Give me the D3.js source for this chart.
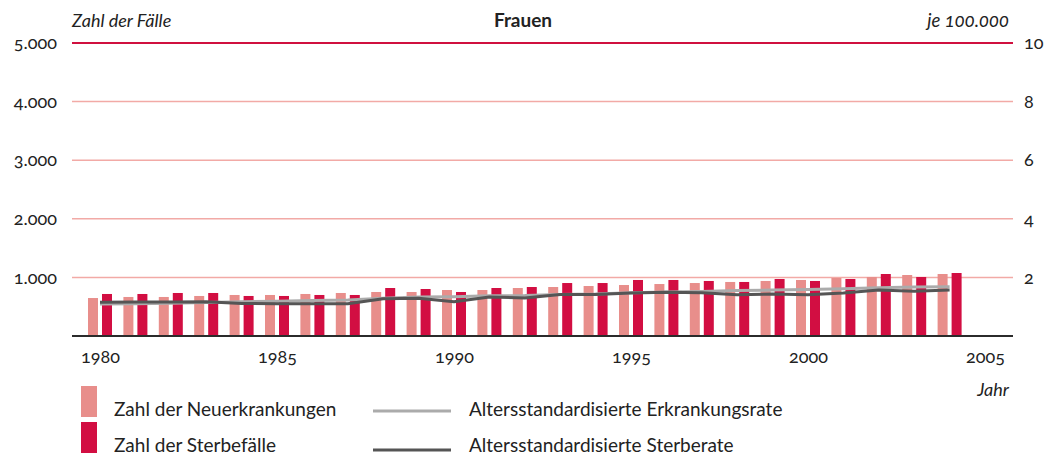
<!DOCTYPE html>
<html>
<head>
<meta charset="utf-8">
<script src="https://cdn.jsdelivr.net/npm/d3@7"></script>
<style>
  body { margin: 0; background: #fff; }
  svg text { font-family: Lato, "Open Sans", sans-serif; fill: #222; font-variant-numeric: oldstyle-nums; }
</style>
</head>
<body>
<div id="canvas"></div>
<script>
  // data
  var years = [1980, 1981, 1982, 1983, 1984, 1985, 1986, 1987, 1988, 1989, 1990, 1991,
    1992, 1993, 1994, 1995, 1996, 1997, 1998, 1999, 2000, 2001, 2002, 2003, 2004];
  // Zahl der Neuerkrankungen
  var newCases = [648, 666, 666, 683, 700, 700, 717, 734, 751, 751, 785, 785,
    819, 836, 853, 870, 887, 904, 922, 939, 956, 990, 1007, 1041, 1058];
  // Zahl der Sterbefälle
  var deaths = [717, 717, 734, 734, 683, 683, 700, 700, 819, 802, 751, 819,
    836, 904, 904, 956, 956, 939, 922, 973, 939, 973, 1058, 1007, 1075];
  // Altersstandardisierte Erkrankungsrate (je 100.000)
  var incRate = [1.09, 1.10, 1.12, 1.14, 1.17, 1.19, 1.21, 1.23, 1.29, 1.33, 1.34, 1.37,
    1.38, 1.42, 1.43, 1.48, 1.50, 1.52, 1.55, 1.57, 1.59, 1.61, 1.65, 1.67, 1.68];
  // Altersstandardisierte Sterberate (je 100.000)
  var mortRate = [1.15, 1.16, 1.16, 1.17, 1.11, 1.10, 1.10, 1.10, 1.27, 1.29, 1.17, 1.33,
    1.30, 1.42, 1.42, 1.47, 1.49, 1.48, 1.41, 1.43, 1.41, 1.47, 1.57, 1.53, 1.57];

  var yearTicks = [1980, 1985, 1990, 1995, 2000, 2005];
  var countTicks = [1000, 2000, 3000, 4000, 5000];
  var rateTicks = [2, 4, 6, 8, 10];

  var legendBars = ['Zahl der Neuerkrankungen', 'Zahl der Sterbefälle'];
  var legendLines = ['Altersstandardisierte Erkrankungsrate', 'Altersstandardisierte Sterberate'];

  (function (d3) {
    var lightRed = '#e88e8b', darkRed = '#d20e42';
    var lightGrey = '#ababab', darkGrey = '#555555';

    var de = d3.formatLocale({ decimal: ',', thousands: '.', grouping: [3], currency: ['', '€'] });
    var fmt = de.format(',');

    var W = 1045, H = 456;
    var plotLeft = 72, plotRight = 1013, plotTop = 43, plotBottom = 336;

    var svg = d3.select('#canvas').append('svg')
      .attr('width', W)
      .attr('height', H);

    var x = d3.scaleLinear().domain([1980, 2005]).range([100, 985]);
    var y = d3.scaleLinear().domain([0, 5000]).range([plotBottom, plotTop]);
    var yr = d3.scaleLinear().domain([0, 10]).range([plotBottom, plotTop]);

    // grid lines
    svg.append('g')
      .selectAll('line')
      .data(countTicks)
      .enter()
      .append('line')
      .attr('x1', plotLeft)
      .attr('x2', plotRight)
      .attr('y1', function (d) { return y(d); })
      .attr('y2', function (d) { return y(d); })
      .attr('stroke', function (d) { return d === 5000 ? '#d0103f' : '#f2aaa6'; })
      .attr('stroke-width', function (d) { return d === 5000 ? 2 : 1.5; });

    // bars
    var bars = svg.append('g');
    bars.selectAll('rect.new')
      .data(years)
      .enter()
      .append('rect')
      .attr('class', 'new')
      .attr('x', function (d) { return x(d) - 12; })
      .attr('width', 10)
      .attr('y', function (d, i) { return y(newCases[i]); })
      .attr('height', function (d, i) { return y(0) - y(newCases[i]); })
      .attr('fill', lightRed);
    bars.selectAll('rect.death')
      .data(years)
      .enter()
      .append('rect')
      .attr('class', 'death')
      .attr('x', function (d) { return x(d) + 2; })
      .attr('width', 10)
      .attr('y', function (d, i) { return y(deaths[i]); })
      .attr('height', function (d, i) { return y(0) - y(deaths[i]); })
      .attr('fill', darkRed);

    // rate lines
    var line = d3.line()
      .x(function (d) { return x(d[0]); })
      .y(function (d) { return yr(d[1]); });

    svg.append('path')
      .datum(d3.zip(years, incRate))
      .attr('d', line)
      .attr('fill', 'none')
      .attr('stroke', lightGrey)
      .attr('stroke-width', 3)
      .attr('stroke-linejoin', 'round');
    svg.append('path')
      .datum(d3.zip(years, mortRate))
      .attr('d', line)
      .attr('fill', 'none')
      .attr('stroke', darkGrey)
      .attr('stroke-width', 3)
      .attr('stroke-linejoin', 'round');

    // baseline
    svg.append('line')
      .attr('x1', plotLeft)
      .attr('x2', plotRight)
      .attr('y1', y(0))
      .attr('y2', y(0))
      .attr('stroke', '#2b2b2b')
      .attr('stroke-width', 2);

    // axes (labels only)
    var leftAxis = svg.append('g')
      .attr('transform', 'translate(' + plotLeft + ',0)')
      .call(d3.axisLeft(y).tickValues(countTicks).tickFormat(fmt).tickSize(0).tickPadding(15));
    var rightAxis = svg.append('g')
      .attr('transform', 'translate(' + plotRight + ',0)')
      .call(d3.axisRight(yr).tickValues(rateTicks).tickFormat(d3.format('d')).tickSize(0).tickPadding(11));
    var bottomAxis = svg.append('g')
      .attr('transform', 'translate(0,' + (plotBottom + 14) + ')')
      .call(d3.axisBottom(x).tickValues(yearTicks).tickFormat(d3.format('d')).tickSize(0).tickPadding(0));

    [leftAxis, rightAxis, bottomAxis].forEach(function (a) {
      a.select('.domain').remove();
      a.selectAll('text')
        .style('font-size', '18px')
        .style('font-family', 'Lato, "Open Sans", sans-serif')
        .attr('fill', '#222');
    });

    // titles
    svg.append('text')
      .attr('x', plotLeft)
      .attr('y', 27)
      .style('font-size', '18px')
      .style('font-style', 'italic')
      .text('Zahl der Fälle');
    svg.append('text')
      .attr('x', 523)
      .attr('y', 27)
      .attr('text-anchor', 'middle')
      .style('font-size', '19px')
      .style('font-weight', 'bold')
      .text('Frauen');
    svg.append('text')
      .attr('x', 1009)
      .attr('y', 27)
      .attr('text-anchor', 'end')
      .style('font-size', '18.5px')
      .style('font-style', 'italic')
      .text('je 100.000');
    svg.append('text')
      .attr('x', 1009)
      .attr('y', 396)
      .attr('text-anchor', 'end')
      .style('font-size', '18px')
      .style('font-style', 'italic')
      .text('Jahr');

    // legend
    var legend = svg.append('g');
    legend.selectAll('rect')
      .data(legendBars)
      .enter()
      .append('rect')
      .attr('x', 81)
      .attr('y', function (d, i) { return 386 + i * 36; })
      .attr('width', 16)
      .attr('height', 31)
      .attr('fill', function (d, i) { return i === 0 ? lightRed : darkRed; });
    legend.selectAll('text.bar')
      .data(legendBars)
      .enter()
      .append('text')
      .attr('class', 'bar')
      .attr('x', 114)
      .attr('y', function (d, i) { return 416 + i * 36; })
      .style('font-size', '19px')
      .text(function (d) { return d; });
    legend.selectAll('line')
      .data(legendLines)
      .enter()
      .append('line')
      .attr('x1', 373)
      .attr('x2', 451)
      .attr('y1', function (d, i) { return 411 + i * 39; })
      .attr('y2', function (d, i) { return 411 + i * 39; })
      .attr('stroke', function (d, i) { return i === 0 ? lightGrey : darkGrey; })
      .attr('stroke-width', 3);
    legend.selectAll('text.line')
      .data(legendLines)
      .enter()
      .append('text')
      .attr('class', 'line')
      .attr('x', 469)
      .attr('y', function (d, i) { return 416 + i * 36; })
      .style('font-size', '19px')
      .text(function (d) { return d; });
  })(window.d3);
</script>
</body>
</html>
